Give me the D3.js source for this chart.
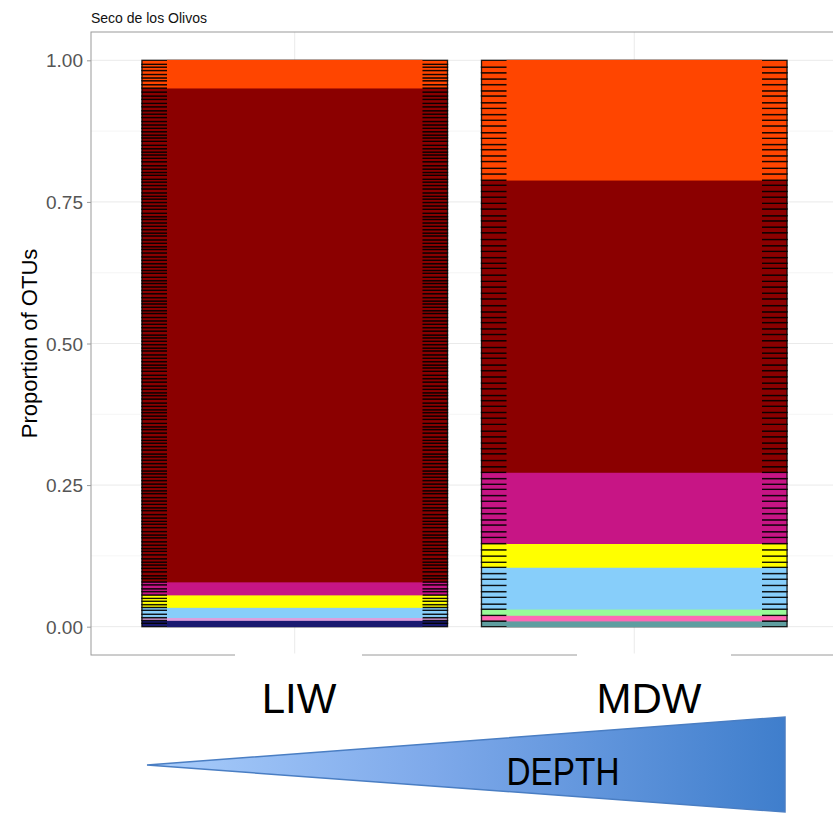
<!DOCTYPE html>
<html><head><meta charset="utf-8">
<script src="https://cdn.jsdelivr.net/npm/d3@7"></script>
<style>body{margin:0;background:#fff} text{font-family:"Liberation Sans",Arial,sans-serif}</style>
</head><body><svg id="c" width="833" height="815"></svg>
<script>
const samples = ["LIW", "MDW"];
const title = "Seco de los Olivos";
const yTitle = "Proportion of OTUs";
const yTicks = [0, 0.25, 0.5, 0.75, 1];
const yMinor = [0.125, 0.375, 0.625, 0.875];
const depthLabel = "DEPTH";

const groupNames  = ["OrangeRed","DarkRed","MediumVioletRed","Yellow","LightSkyBlue","PaleGreen","HotPink","Plum","CadetBlue","MidnightBlue"];
const groupColors = ["#FF4500","#8B0000","#C71585","#FFFF00","#87CEFA","#98FB98","#FF69B4","#DDA0DD","#5F9EA0","#191970"];

// OTU abundances (per mille of reads), one entry per OTU
const liwMidnightBlue = [6,5];
const liwPlum = [5];
const liwLightSkyBlue = [6,7,5];
const liwYellow = [5,6,5,6];
const liwMediumVioletRed = [6,5,7,5];
const liwDarkRed = [
  6,5,7,6,6,5,6,7,6,5,6,6,7,5,6,
  7,6,5,6,6,7,5,6,6,6,7,5,6,6,6,
  6,6,5,7,6,6,6,5,7,6,6,5,6,7,6,
  5,6,7,6,6,5,6,6,7,6,5,6,6,7,6,
  6,7,6,5,6,6,6,7,5,6,6,6,5,7,6,
  6,6,6,7,5,6,6,5,6,7,6,6,6,5,6,
  7,5,6,6,6,6,7,6,5,6,6,7,5,6,6,
  6,6,5,6,7,6,6,6,5,6,7,6,6,5,7,
  5,6,6,7,6,6,5,6,6,7,6,5,6,6,6,
  6,7,6,6,7,6,7,6,7,7];
const liwOrangeRed = [6,7,5,6,7,6,5,7];

const mdwCadetBlue = [10];
const mdwHotPink = [10];
const mdwPaleGreen = [11];
const mdwLightSkyBlue = [9,12,10,11,11,10,11];
const mdwYellow = [9,11,11,11];
const mdwMediumVioletRed = [11,10,12,9,11,10,12,10,11,9,10,11];
const mdwDarkRed = [
  10,11,12,9,10,11,10,12,11,10,
  11,10,9,12,10,11,11,10,12,9,
  10,12,11,10,11,9,10,11,12,10,
  11,10,11,12,9,10,11,10,11,12,
  10,11,9,12,10,11,10,11,9];
const mdwOrangeRed = [11,10,12,10,11,9,11,10,12,10,10,11,10,12,9,11,10,11,10,12];

// stacks listed bottom to top
const stacks = {
  LIW: [["MidnightBlue",liwMidnightBlue],["Plum",liwPlum],["LightSkyBlue",liwLightSkyBlue],["Yellow",liwYellow],
        ["MediumVioletRed",liwMediumVioletRed],["DarkRed",liwDarkRed],["OrangeRed",liwOrangeRed]],
  MDW: [["CadetBlue",mdwCadetBlue],["HotPink",mdwHotPink],["PaleGreen",mdwPaleGreen],["LightSkyBlue",mdwLightSkyBlue],
        ["Yellow",mdwYellow],["MediumVioletRed",mdwMediumVioletRed],["DarkRed",mdwDarkRed],["OrangeRed",mdwOrangeRed]]
};

const svg = d3.select("#c");
const P = {l: 91, t: 32, r: 838, b: 655};
const x = d3.scaleLinear().domain([0.4, 2.6]).range([P.l, P.r]);
const y = d3.scaleLinear().domain([-0.05, 1.05]).range([P.b, P.t]);
const color = d3.scaleOrdinal().domain(groupNames).range(groupColors);
const barW = 0.9, stripFrac = 0.082;

// grid
const g = svg.append("g");
g.selectAll(".minor").data(yMinor).join("line")
  .attr("x1", P.l).attr("x2", P.r).attr("y1", d => y(d)).attr("y2", d => y(d))
  .attr("stroke", "#F3F3F3").attr("stroke-width", 0.8);
g.selectAll(".major").data(yTicks).join("line")
  .attr("x1", P.l).attr("x2", P.r).attr("y1", d => y(d)).attr("y2", d => y(d))
  .attr("stroke", "#EAEAEA").attr("stroke-width", 1);
g.selectAll(".vmaj").data(samples).join("line")
  .attr("x1", (d,i) => x(i+1)).attr("x2", (d,i) => x(i+1)).attr("y1", P.t).attr("y2", P.b)
  .attr("stroke", "#EAEAEA").attr("stroke-width", 1);

// bars
samples.forEach((s, i) => {
  const st = stacks[s];
  const total = d3.sum(st, d => d3.sum(d[1]));
  const x0 = x(i + 1 - barW/2), x1 = x(i + 1 + barW/2);
  const strip = (x1 - x0) * stripFrac;
  const otus = [], grps = [];
  let cum = 0;
  st.forEach(([name, vals]) => {
    const gStart = cum;
    vals.forEach(v => { otus.push({name, lo: cum, hi: cum + v/total}); cum += v/total; });
    grps.push({name, lo: gStart, hi: cum});
  });
  const bg = svg.append("g");
  bg.selectAll("rect.otu").data(otus).join("rect")
    .attr("x", x0).attr("width", x1 - x0)
    .attr("y", d => y(d.hi)).attr("height", d => y(d.lo) - y(d.hi))
    .attr("fill", d => color(d.name)).attr("stroke", "#000").attr("stroke-width", 1.35).attr("stroke-opacity", 0.85);
  bg.selectAll("rect.grp").data(grps).join("rect")
    .attr("x", x0 + strip).attr("width", x1 - x0 - 2*strip)
    .attr("y", d => y(d.hi) - 0.4).attr("height", d => y(d.lo) - y(d.hi) + 0.8)
    .attr("fill", d => color(d.name));
});

// panel border
svg.append("rect").attr("x", P.l).attr("y", P.t).attr("width", P.r - P.l).attr("height", P.b - P.t)
  .attr("fill", "none").attr("stroke", "#9A9A9A").attr("stroke-width", 1);

// y axis
const ax = svg.append("g").attr("transform", `translate(${P.l},0)`)
  .call(d3.axisLeft(y).tickValues(yTicks).tickFormat(d3.format(".2f")).tickSize(4).tickPadding(4));
ax.select(".domain").remove();
ax.selectAll(".tick line").attr("stroke", "#9A9A9A");
ax.selectAll(".tick text").attr("fill", "#555").style("font-size", "19px").attr("dy", "0.35em");

// titles
svg.append("text").attr("x", P.l).attr("y", 23).text(title).style("font-size", "14px").attr("fill", "#111");
svg.append("text").attr("transform", `translate(37,${(y(0)+y(1))/2}) rotate(-90)`).attr("text-anchor", "middle")
  .text(yTitle).style("font-size", "22px").attr("fill", "#000");

// pasted label boxes
const labelX = [299, 649];
svg.selectAll(".lbox").data(samples).join("rect")
  .attr("x", (d,i) => labelX[i] - (i ? 72 : 64)).attr("width", (d,i) => i ? 154 : 127)
  .attr("y", P.b - 1.5).attr("height", 60).attr("fill", "#fff");
svg.selectAll(".lab").data(samples).join("text")
  .attr("x", (d,i) => labelX[i]).attr("y", 713).attr("text-anchor", "middle")
  .text(d => d).style("font-size", "42px").attr("fill", "#000");

// depth wedge
const defs = svg.append("defs");
const grad = defs.append("linearGradient").attr("id", "dg").attr("x1", "0").attr("x2", "1").attr("y1", "0").attr("y2", "0");
grad.append("stop").attr("offset", "0%").attr("stop-color", "#A9CDFB");
grad.append("stop").attr("offset", "45%").attr("stop-color", "#7EA9EA");
grad.append("stop").attr("offset", "100%").attr("stop-color", "#3F7ECC");
svg.append("path").attr("d", d3.line()([[147,765],[785,717],[785,812]]) + "Z")
  .attr("fill", "url(#dg)").attr("stroke", "#4A7EC3").attr("stroke-width", 1.5);
svg.append("text").attr("x", 563).attr("y", 785).attr("text-anchor", "middle")
  .attr("textLength", 113).attr("lengthAdjust", "spacingAndGlyphs")
  .text(depthLabel).style("font-size", "38px").attr("fill", "#000");
</script></body></html>
